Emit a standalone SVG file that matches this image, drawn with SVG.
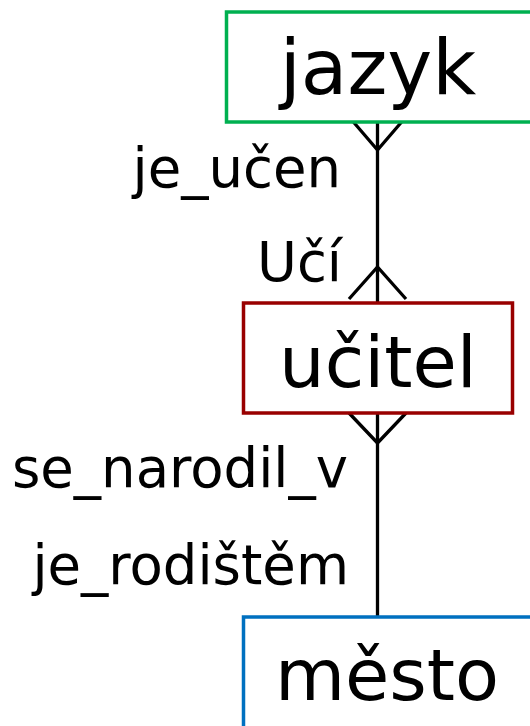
<svg xmlns="http://www.w3.org/2000/svg" width="530" height="726" viewBox="0 0 530 726">
<style>
.box{fill:#fff;stroke-width:3.5}
.name{font-family:"DejaVu Sans",sans-serif;font-size:72px;fill:#000;text-anchor:middle}
.lbl{font-family:"DejaVu Sans",sans-serif;font-size:54.5px;fill:#000;text-anchor:end}
.conn{fill:none;stroke:#000;stroke-width:3.3;stroke-linejoin:miter}
</style>
<rect width="530" height="726" fill="#fff"/>
<g id="connectors">
<path class="conn" d="M377.5,122 L377.5,303"/>
<path class="conn" d="M350,118 L377.5,150 L405,118"/>
<path class="conn" d="M349,299 L377.5,267 L406,299"/>
<path class="conn" d="M377.5,413 L377.5,617"/>
<path class="conn" d="M349,413 L377.5,443 L406,413"/>
<text class="lbl" x="341" y="187">je_učen</text>
<text class="lbl" x="342" y="281">Učí</text>
<text class="lbl" x="348" y="487">se_narodil_v</text>
<text class="lbl" x="349" y="584">je_rodištěm</text>
</g>
<g id="jazyk">
<rect class="box" x="226.5" y="12" width="306" height="110" stroke="#00B050"/>
<text class="name" x="378" y="94" style="font-size:76px">jazyk</text>
</g>
<g id="ucitel">
<rect class="box" x="243.5" y="303" width="269" height="110" stroke="#990000"/>
<text class="name" x="378" y="387">učitel</text>
</g>
<g id="mesto">
<rect class="box" x="243.5" y="617" width="290" height="115" stroke="#0070C0"/>
<text class="name" x="387" y="700">město</text>
</g>
</svg>
